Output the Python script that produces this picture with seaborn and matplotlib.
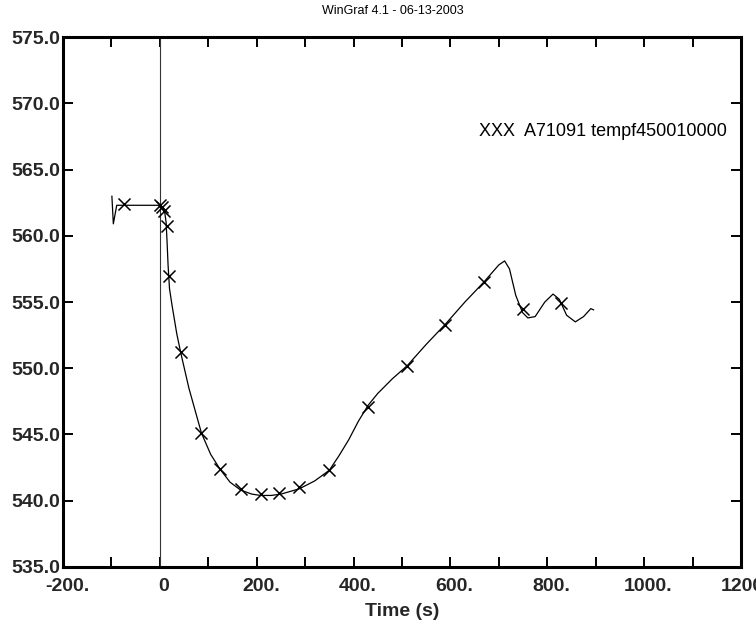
import matplotlib
matplotlib.use("Agg")
import matplotlib.pyplot as plt
import matplotlib.transforms as mtrans
import seaborn as sns
import pandas as pd

# ---- data ----
curve_time = [-99, -96, -89, 0, 5, 10, 13, 15, 17, 20, 25, 35, 43, 60, 86, 105, 124,
              145, 167, 190, 208, 230, 250, 288, 320, 350, 370, 390, 410, 430, 450,
              480, 511, 550, 589, 630, 669, 700, 712, 722, 735, 749, 760, 775, 795,
              812, 825, 840, 858, 875, 890, 896]
curve_temp = [563.0, 560.9, 562.3, 562.3, 562.2, 561.8, 561.0, 559.5, 557.8, 556.0,
              554.8, 552.6, 551.2, 548.5, 545.1, 543.5, 542.4, 541.4, 540.8, 540.5,
              540.4, 540.4, 540.5, 540.9, 541.5, 542.3, 543.4, 544.6, 546.0, 547.2,
              548.1, 549.2, 550.2, 551.8, 553.3, 555.0, 556.5, 557.8, 558.1, 557.5,
              555.5, 554.2, 553.8, 553.9, 555.0, 555.6, 555.2, 554.0, 553.5, 553.9,
              554.5, 554.4]

marker_time = [-74, 0, 4, 8, 14, 18, 43, 86, 124, 167, 208, 247, 288, 350, 430,
               511, 589, 669, 749, 828]
marker_temp = [562.4, 562.3, 562.2, 561.9, 560.7, 557.0, 551.2, 545.1, 542.4, 540.9,
               540.5, 540.6, 541.0, 542.3, 547.1, 550.2, 553.3, 556.5, 554.5, 554.9]

x_ticks = [-200, 0, 200, 400, 600, 800, 1000, 1200]
x_tick_labels = ["-200.", "0", "200.", "400.", "600.", "800.", "1000.", "1200."]
y_ticks = [535, 540, 545, 550, 555, 560, 565, 570, 575]
y_tick_labels = ["535.0", "540.0", "545.0", "550.0", "555.0", "560.0", "565.0",
                 "570.0", "575.0"]
legend_text = "XXX  A71091 tempf450010000"
title_text = "WinGraf 4.1 - 06-13-2003"
x_label = "Time (s)"

curve_df = pd.DataFrame({"time": curve_time, "temp": curve_temp})
marker_df = pd.DataFrame({"time": marker_time, "temp": marker_temp})

sns.set_style("ticks")
plt.rcParams["font.family"] = ["Liberation Sans", "DejaVu Sans"]

fig = plt.figure(figsize=(7.56, 6.34), dpi=100)
ax = fig.add_axes([0.0833, 0.1057, 0.8968, 0.8359])

ax.axvline(0, color="#333333", lw=0.8, zorder=1)
sns.lineplot(data=curve_df, x="time", y="temp", sort=False, estimator=None,
             color="black", lw=0.9, ax=ax, zorder=2)
sns.scatterplot(data=marker_df, x="time", y="temp", marker="x", s=75,
                color="black", linewidth=1.1, ax=ax, zorder=3)

ax.set_xlim(-200, 1200)
ax.set_ylim(535, 575)
ax.set_xticks(x_ticks)
ax.set_xticklabels(x_tick_labels, fontsize=14, fontweight="bold")
ax.set_xticks(list(range(-100, 1200, 200)), minor=True)
ax.set_yticks(y_ticks)
ax.set_yticklabels(y_tick_labels, fontsize=14, fontweight="bold")

ax.tick_params(axis="both", which="both", direction="in", length=7.2, width=1.4,
               top=True, right=True, color="black")
ax.tick_params(axis="x", which="major", pad=8)
ax.tick_params(axis="y", which="major", pad=2)

offset = mtrans.ScaledTranslation(3 / 72, 0, fig.dpi_scale_trans)
for lab in ax.get_xticklabels():
    lab.set_transform(lab.get_transform() + offset)

for sp in ax.spines.values():
    sp.set_linewidth(2.2)
    sp.set_color("black")

ax.set_xlabel(x_label, fontsize=14, fontweight="bold", labelpad=6)
ax.set_ylabel("")

ax.text(0.979, 0.821, legend_text, transform=ax.transAxes, ha="right", va="center",
        fontsize=13, color="black")

fig.text(0.52, 0.982, title_text, ha="center", va="center", fontsize=9,
         color="black")

fig.savefig("out.png", dpi=100)
